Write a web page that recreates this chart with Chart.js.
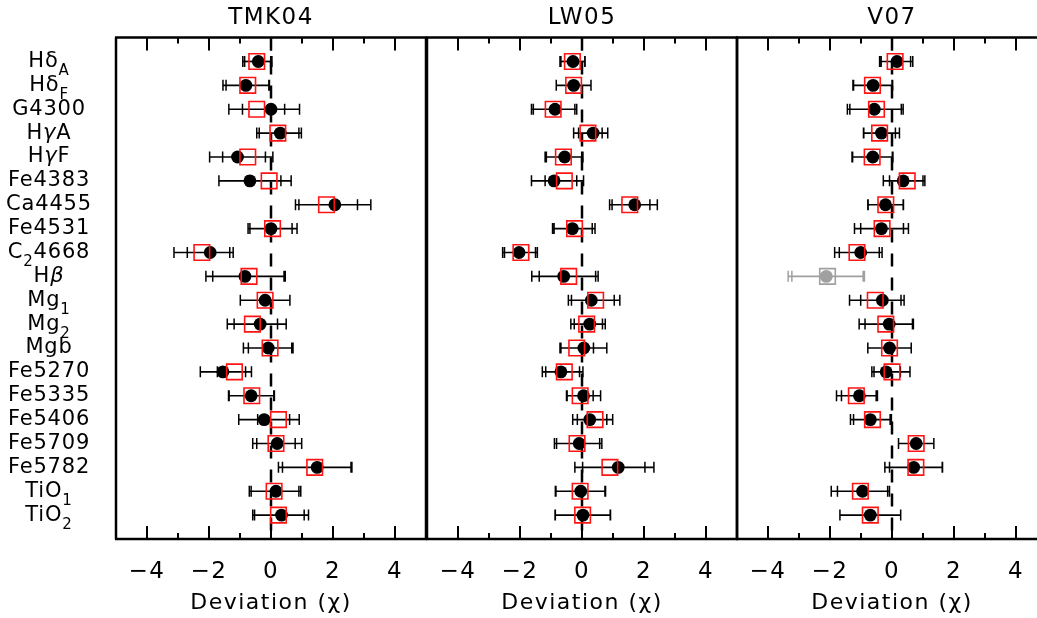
<!DOCTYPE html>
<html>
<head>
<meta charset="utf-8">
<script src="https://cdn.jsdelivr.net/npm/chart.js@4.4.1/dist/chart.umd.min.js"></script>
<style>
  html, body { margin: 0; padding: 0; background: #fff; }
  #wrap { position: relative; width: 1037px; height: 618px; overflow: hidden; background: #fff; }
  canvas { position: absolute; top: 0; }
</style>
</head>
<body>
<div id="wrap">
  <canvas id="c1" width="452" height="618" style="left:0px"></canvas>
  <canvas id="c2" width="362" height="618" style="left:400px"></canvas>
  <canvas id="c3" width="365" height="618" style="left:707px"></canvas>
</div>
<script>
// ---------------- DATA ----------------
const CATEGORIES = ['Hδ_{A}','Hδ_{F}','G4300','HγA','HγF','Fe4383','Ca4455','Fe4531','C_{2}4668','Hβ',
                    'Mg_{1}','Mg_{2}','Mgb','Fe5270','Fe5335','Fe5406','Fe5709','Fe5782','TiO_{1}','TiO_{2}'];
const PANEL_TITLES = ['TMK04', 'LW05', 'V07'];
const X_TITLE = 'Deviation (χ)';
const TICK_VALUES = [-4, -2, 0, 2, 4];
const MINOR_TICKS = [-3, -1, 1, 3];

const TMK04_CIRCLE     = [-0.41,-0.81, 0.00, 0.30,-1.08,-0.68, 2.06, 0.00,-1.96,-0.84,-0.19,-0.35,-0.09,-1.55,-0.64,-0.22, 0.20, 1.49, 0.16, 0.34];
const TMK04_CIRCLE_ERR = [ 0.44, 0.74, 0.92, 0.68, 0.90, 1.00, 1.16, 0.68, 0.74, 1.26, 0.80, 0.84, 0.80, 0.73, 0.73, 0.82, 0.79, 1.12, 0.80, 0.87];
const TMK04_SQUARE     = [-0.46,-0.75,-0.46, 0.22,-0.75,-0.06, 1.79, 0.05,-2.23,-0.71,-0.19,-0.60,-0.03,-1.18,-0.62, 0.24, 0.16, 1.41, 0.10, 0.24];
const TMK04_SQUARE_ERR = [ 0.45, 0.70, 0.90, 0.68, 0.81, 0.71, 1.00, 0.79, 0.90, 1.17, 0.80, 0.81, 0.70, 0.55, 0.73, 0.67, 0.62, 1.17, 0.80, 0.83];

const LW05_CIRCLE      = [-0.29,-0.27,-0.87, 0.36,-0.56,-0.90, 1.70,-0.31,-2.03,-0.59, 0.30, 0.25, 0.06,-0.68, 0.05, 0.25,-0.09, 1.17,-0.04, 0.03];
const LW05_CIRCLE_ERR  = [ 0.39, 0.56, 0.70, 0.47, 0.59, 0.73, 0.73, 0.64, 0.53, 1.03, 0.74, 0.50, 0.74, 0.60, 0.55, 0.55, 0.73, 1.15, 0.80, 0.89];
const LW05_SQUARE      = [-0.31,-0.27,-0.93, 0.19,-0.60,-0.57, 1.54,-0.24,-1.97,-0.43, 0.44, 0.15,-0.17,-0.57,-0.06, 0.42,-0.16, 0.90,-0.06, 0.02];
const LW05_SQUARE_ERR  = [ 0.40, 0.56, 0.70, 0.46, 0.59, 0.62, 0.65, 0.66, 0.53, 0.95, 0.78, 0.51, 0.54, 0.60, 0.42, 0.57, 0.73, 1.13, 0.80, 0.89];

const V07_CIRCLE       = [ 0.16,-0.61,-0.57,-0.34,-0.62, 0.36,-0.21,-0.34,-1.01,-2.12,-0.31,-0.09,-0.08,-0.19,-1.05,-0.70, 0.78, 0.70,-0.95,-0.70];
const V07_CIRCLE_ERR   = [ 0.51, 0.63, 0.87, 0.58, 0.65, 0.64, 0.57, 0.87, 0.69, 1.23, 0.70, 0.78, 0.70, 0.46, 0.58, 0.64, 0.57, 0.93, 0.81, 0.98];
const V07_SQUARE       = [ 0.10,-0.63,-0.50,-0.40,-0.64, 0.49,-0.20,-0.32,-1.13,-2.08,-0.54,-0.20,-0.08, 0.00,-1.15,-0.63, 0.78, 0.77,-1.02,-0.70];
const V07_SQUARE_ERR   = [ 0.50, 0.63, 0.86, 0.51, 0.65, 0.57, 0.57, 0.69, 0.72, 1.15, 0.83, 0.86, 0.70, 0.58, 0.64, 0.61, 0.57, 0.85, 0.94, 0.98];
const V07_GREY_ROWS    = ['Hβ'];

// ---------------- STYLE ----------------
const FONT = "'DejaVu Sans', 'Liberation Sans', sans-serif";
const RED = 'rgb(255,20,20)';
const GREY = 'rgb(160,160,160)';
const ITALIC_CHARS = 'βγ';

function parseLabel(s) {
  const parts = [];
  const re = /_\{([^}]*)\}/g;
  let last = 0, m;
  const pushMain = t => {
    let buf = '';
    for (const ch of t) {
      if (ITALIC_CHARS.includes(ch)) {
        if (buf) { parts.push({ t: buf, sub: false, it: false }); buf = ''; }
        parts.push({ t: ch, sub: false, it: true });
      } else buf += ch;
    }
    if (buf) parts.push({ t: buf, sub: false, it: false });
  };
  while ((m = re.exec(s)) !== null) {
    if (m.index > last) pushMain(s.slice(last, m.index));
    parts.push({ t: m[1], sub: true, it: false });
    last = re.lastIndex;
  }
  if (last < s.length) pushMain(s.slice(last));
  return parts;
}

const spacingPlugin = {
  id: 'spacing',
  beforeDraw(chart) {
    if ('letterSpacing' in chart.ctx) chart.ctx.letterSpacing = '1.5px';
  }
};

const rowLabelsPlugin = {
  id: 'rowLabels',
  afterDraw(chart, args, opts) {
    if (!opts.show) return;
    const ctx = chart.ctx, ys = chart.scales.y;
    const fontFor = p => p.sub ? '15px ' + FONT : (p.it ? 'italic 21px ' + FONT : '21px ' + FONT);
    ctx.save();
    if ('letterSpacing' in ctx) ctx.letterSpacing = '0.8px';
    ctx.fillStyle = '#000';
    ctx.textBaseline = 'alphabetic';
    ctx.textAlign = 'left';
    CATEGORIES.forEach((lab, i) => {
      const base = ys.getPixelForValue(i + 1) + 5.5;
      const parts = parseLabel(lab);
      let w = 0;
      parts.forEach(p => { ctx.font = fontFor(p); p.w = ctx.measureText(p.t).width; w += p.w; });
      let x = 49 - w / 2;
      parts.forEach(p => {
        ctx.font = fontFor(p);
        ctx.fillText(p.t, x, p.sub ? base + 8 : base);
        x += p.w;
      });
    });
    ctx.restore();
  }
};

const framePlugin = {
  id: 'frame',
  beforeDatasetsDraw(chart) {
    const ctx = chart.ctx, xs = chart.scales.x;
    const { top, bottom } = chart.chartArea;
    const x0 = xs.getPixelForValue(0);
    ctx.save();
    ctx.strokeStyle = '#000';
    ctx.lineWidth = 2.5;
    ctx.setLineDash([13, 11]);
    ctx.beginPath();
    ctx.moveTo(x0, top);
    ctx.lineTo(x0, bottom);
    ctx.stroke();
    ctx.restore();
  },
  afterDraw(chart) {
    const ctx = chart.ctx, xs = chart.scales.x;
    const { left, right, top, bottom } = chart.chartArea;
    ctx.save();
    ctx.strokeStyle = '#000';
    ctx.lineWidth = 2.5;
    ctx.beginPath();
    ctx.moveTo(left - 1, top); ctx.lineTo(right + 1, top);
    ctx.moveTo(left - 1, bottom); ctx.lineTo(right + 1, bottom);
    ctx.moveTo(left, top); ctx.lineTo(left, bottom);
    ctx.moveTo(right, top); ctx.lineTo(right, bottom);
    ctx.stroke();
    ctx.lineWidth = 2;
    ctx.beginPath();
    TICK_VALUES.forEach(v => {
      const x = xs.getPixelForValue(v);
      ctx.moveTo(x, top); ctx.lineTo(x, top + 13);
      ctx.moveTo(x, bottom); ctx.lineTo(x, bottom - 13);
    });
    MINOR_TICKS.forEach(v => {
      const x = xs.getPixelForValue(v);
      ctx.moveTo(x, top); ctx.lineTo(x, top + 6);
      ctx.moveTo(x, bottom); ctx.lineTo(x, bottom - 6);
    });
    ctx.stroke();
    ctx.restore();
  }
};

const errorBarPlugin = {
  id: 'errBars',
  beforeDatasetsDraw(chart, args, opts) {
    const ctx = chart.ctx, xs = chart.scales.x, ys = chart.scales.y;
    const { c, ce, s, se, grey } = opts;
    ctx.save();
    for (let i = 0; i < c.length; i++) {
      const col = grey.includes(CATEGORIES[i]) ? GREY : '#000';
      const y = ys.getPixelForValue(i + 1);
      const lo = Math.min(c[i] - ce[i], s[i] - se[i]);
      const hi = Math.max(c[i] + ce[i], s[i] + se[i]);
      ctx.strokeStyle = col;
      ctx.lineWidth = 1.7;
      ctx.beginPath();
      ctx.moveTo(xs.getPixelForValue(lo), y);
      ctx.lineTo(xs.getPixelForValue(hi), y);
      ctx.stroke();
      ctx.lineWidth = 1.5;
      ctx.beginPath();
      [c[i] - ce[i], c[i] + ce[i], s[i] - se[i], s[i] + se[i]].forEach(v => {
        const px = xs.getPixelForValue(v);
        ctx.moveTo(px, y - 5.5); ctx.lineTo(px, y + 5.5);
      });
      ctx.stroke();
    }
    ctx.restore();
  }
};

function makePanel(id, title, c, ce, s, se, padL, padR, grey, showLabels) {
  const colorsC = CATEGORIES.map(k => grey.includes(k) ? GREY : '#000');
  const colorsS = CATEGORIES.map(k => grey.includes(k) ? GREY : RED);
  return new Chart(document.getElementById(id), {
    type: 'scatter',
    data: {
      datasets: [
        {
          label: 'square',
          data: s.map((v, i) => ({ x: v, y: i + 1 })),
          pointStyle: 'rect',
          pointRadius: 11,
          pointBorderWidth: 1.6,
          pointBorderColor: colorsS,
          pointBackgroundColor: 'rgba(0,0,0,0)',
          order: 0
        },
        {
          label: 'circle',
          data: c.map((v, i) => ({ x: v, y: i + 1 })),
          pointStyle: 'circle',
          pointRadius: 6.4,
          pointBorderWidth: 0,
          pointBorderColor: colorsC,
          pointBackgroundColor: colorsC,
          order: 1
        }
      ]
    },
    options: {
      responsive: false,
      maintainAspectRatio: false,
      animation: false,
      events: [],
      layout: { padding: { left: padL, right: padR, top: 0, bottom: 0 } },
      scales: {
        x: {
          type: 'linear',
          min: -5, max: 5,
          afterFit: sc => { sc.height = 79; },
          afterBuildTicks: sc => { sc.ticks = TICK_VALUES.map(v => ({ value: v })); },
          grid: { display: false, drawTicks: false },
          border: { display: false },
          ticks: {
            padding: 19,
            color: '#000',
            font: { family: FONT, size: 23 },
            maxRotation: 0,
            autoSkip: false,
            callback: v => (v < 0 ? '\u2212' + Math.abs(v) : String(v))
          },
          title: {
            display: true,
            text: X_TITLE,
            color: '#000',
            font: { family: FONT, size: 22 },
            padding: { top: 0, bottom: 2 }
          }
        },
        y: {
          type: 'linear',
          display: false,
          reverse: true,
          min: 0, max: 21
        }
      },
      plugins: {
        legend: { display: false },
        tooltip: { enabled: false },
        title: {
          display: true,
          text: title,
          color: '#000',
          font: { family: FONT, size: 23, weight: 'normal' },
          padding: { top: 4, bottom: 6 }
        },
        errBars: { c, ce, s, se, grey },
        rowLabels: { show: showLabels }
      }
    },
    plugins: [spacingPlugin, framePlugin, errorBarPlugin, rowLabelsPlugin]
  });
}

makePanel('c1', PANEL_TITLES[0], TMK04_CIRCLE, TMK04_CIRCLE_ERR, TMK04_SQUARE, TMK04_SQUARE_ERR, 116, 26, [], true);
makePanel('c2', PANEL_TITLES[1], LW05_CIRCLE, LW05_CIRCLE_ERR, LW05_SQUARE, LW05_SQUARE_ERR, 27, 25, [], false);
makePanel('c3', PANEL_TITLES[2], V07_CIRCLE, V07_CIRCLE_ERR, V07_SQUARE, V07_SQUARE_ERR, 30, 25, V07_GREY_ROWS, false);
</script>
</body>
</html>
